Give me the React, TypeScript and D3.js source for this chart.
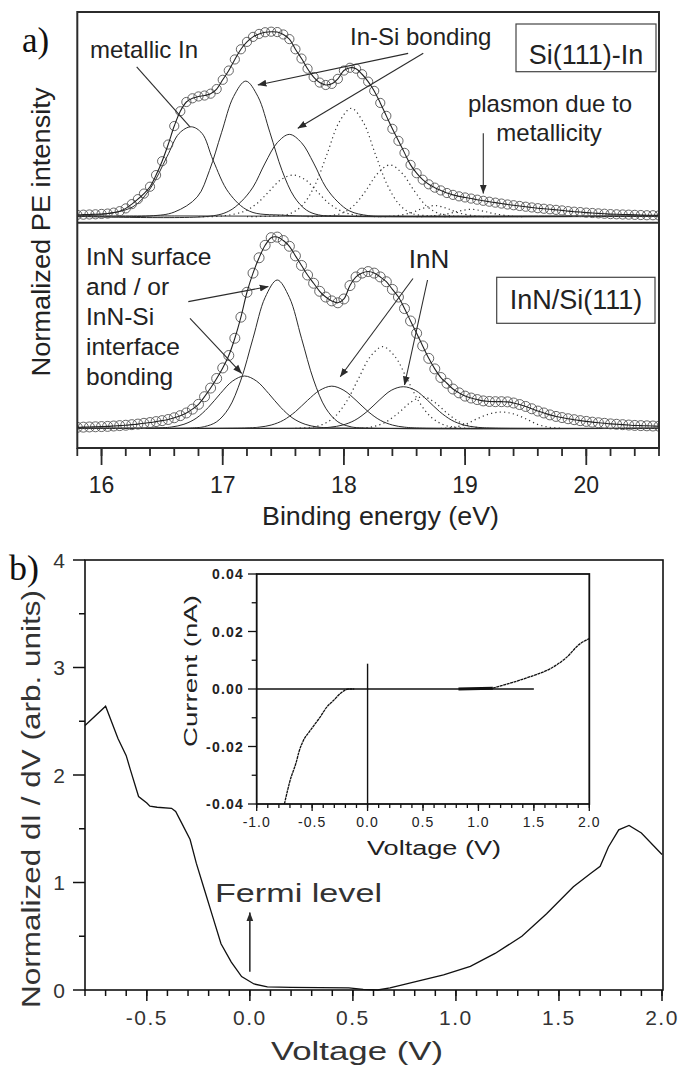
import React from 'react';
import * as d3 from 'd3';

type Pt = [number, number];

// ---------- panel a: photoemission spectra (binding energy eV, normalized intensity)
const siInSpectrum: Pt[] = [
  [15.80,.010],[15.85,.011],[15.90,.012],[15.95,.013],[16.00,.015],[16.05,.017],[16.10,.022],[16.15,.030],
  [16.20,.045],[16.25,.068],[16.30,.095],[16.35,.125],[16.40,.162],[16.45,.225],[16.50,.300],[16.55,.390],
  [16.60,.490],[16.65,.570],[16.70,.620],[16.75,.640],[16.80,.650],[16.85,.655],[16.90,.665],[16.95,.690],
  [17.00,.740],[17.05,.790],[17.10,.850],[17.15,.905],[17.20,.945],[17.25,.972],[17.30,.988],[17.35,.997],
  [17.40,1.000],[17.45,.998],[17.50,.985],[17.55,.960],[17.60,.905],[17.65,.855],[17.70,.800],[17.75,.755],
  [17.80,.725],[17.85,.712],[17.90,.718],[17.95,.745],[18.00,.790],[18.05,.805],[18.10,.800],[18.15,.770],
  [18.20,.730],[18.25,.680],[18.30,.615],[18.35,.545],[18.40,.475],[18.45,.410],[18.50,.345],[18.55,.280],
  [18.60,.235],[18.65,.200],[18.70,.175],[18.75,.157],[18.80,.142],[18.85,.128],[18.90,.118],[18.95,.110],
  [19.00,.104],[19.05,.098],[19.10,.092],[19.15,.086],[19.20,.081],[19.25,.076],[19.30,.071],[19.35,.066],
  [19.40,.062],[19.45,.058],[19.50,.054],[19.55,.050],[19.60,.046],[19.65,.043],[19.70,.040],[19.75,.037],
  [19.80,.034],[19.85,.030],[19.90,.027],[19.95,.025],[20.00,.022],[20.05,.020],[20.10,.018],[20.15,.016],
  [20.20,.014],[20.25,.013],[20.30,.012],[20.35,.011],[20.40,.010],[20.45,.009],[20.50,.008],[20.55,.008],
  [20.60,.007],
];

const innSpectrum: Pt[] = [
  [15.80,.005],[15.85,.006],[15.90,.007],[15.95,.008],[16.00,.009],[16.05,.010],[16.10,.012],[16.15,.014],
  [16.20,.016],[16.25,.019],[16.30,.022],[16.35,.026],[16.40,.030],[16.45,.035],[16.50,.040],[16.55,.046],
  [16.60,.055],[16.65,.066],[16.70,.080],[16.75,.100],[16.80,.125],[16.85,.165],[16.90,.210],[16.95,.260],
  [17.00,.315],[17.05,.380],[17.10,.470],[17.15,.580],[17.20,.710],[17.25,.810],[17.30,.890],[17.35,.955],
  [17.40,.995],[17.45,.998],[17.50,.980],[17.55,.950],[17.60,.900],[17.65,.850],[17.70,.800],[17.75,.757],
  [17.80,.715],[17.85,.685],[17.90,.665],[17.95,.655],[18.00,.675],[18.05,.745],[18.10,.790],[18.15,.810],
  [18.20,.818],[18.25,.810],[18.30,.790],[18.35,.765],[18.40,.725],[18.45,.685],[18.50,.625],[18.55,.560],
  [18.60,.496],[18.65,.430],[18.70,.365],[18.75,.310],[18.80,.265],[18.85,.235],[18.90,.205],[18.95,.185],
  [19.00,.168],[19.05,.158],[19.10,.150],[19.15,.143],[19.20,.140],[19.25,.139],[19.30,.139],[19.35,.138],
  [19.40,.132],[19.45,.124],[19.50,.114],[19.55,.102],[19.60,.090],[19.65,.080],[19.70,.070],[19.75,.062],
  [19.80,.056],[19.85,.050],[19.90,.045],[19.95,.040],[20.00,.036],[20.05,.032],[20.10,.029],[20.15,.026],
  [20.20,.023],[20.25,.021],[20.30,.019],[20.35,.017],[20.40,.015],[20.45,.014],[20.50,.013],[20.55,.012],
  [20.60,.011],
];

// fitted components, Si(111)-In
const metallicIn: Pt[] = [[15.8,.005],[16.0,.012],[16.26,.054],[16.4,.15],[16.54,.324],[16.64,.45],[16.74,.486],[16.83,.45],[16.92,.306],[17.05,.13],[17.22,.03],[17.5,.008],[18.0,.003],[20.6,.002]];
const inSiA: Pt[] = [[15.8,.002],[16.4,.004],[16.6,.025],[16.79,.107],[16.89,.249],[16.99,.454],[17.09,.65],[17.19,.733],[17.29,.65],[17.39,.454],[17.49,.249],[17.59,.107],[17.69,.036],[17.79,.01],[18.0,.002],[20.6,.002]];
const inSiB: Pt[] = [[15.8,.002],[16.9,.003],[17.05,.03],[17.15,.08],[17.25,.16],[17.35,.29],[17.45,.40],[17.55,.445],[17.65,.40],[17.75,.29],[17.85,.16],[17.95,.08],[18.05,.03],[18.2,.006],[18.4,.002],[20.6,.002]];
const siInDotA: Pt[] = [[16.8,.0],[17.0,.004],[17.18,.03],[17.28,.07],[17.38,.135],[17.48,.2],[17.58,.225],[17.68,.2],[17.78,.135],[17.88,.07],[17.98,.03],[18.1,.008],[18.3,.0]];
const siInDotB: Pt[] = [[17.2,.0],[17.4,.004],[17.56,.018],[17.66,.064],[17.76,.169],[17.86,.337],[17.96,.51],[18.06,.586],[18.16,.51],[18.26,.337],[18.36,.169],[18.46,.064],[18.56,.018],[18.72,.004],[18.9,.0]];
const siInDotC: Pt[] = [[17.7,.0],[17.85,.004],[17.98,.018],[18.08,.059],[18.18,.14],[18.28,.235],[18.38,.28],[18.48,.235],[18.58,.14],[18.68,.059],[18.78,.018],[18.9,.004],[19.05,.0]];
const siInDotD: Pt[] = [[18.3,.0],[18.4,.003],[18.55,.02],[18.65,.045],[18.75,.06],[18.85,.045],[18.95,.02],[19.1,.003],[19.2,.0]];
const siInDotE: Pt[] = [[18.6,.0],[18.7,.002],[18.85,.015],[18.95,.03],[19.05,.04],[19.15,.03],[19.25,.015],[19.4,.002],[19.5,.0]];
const siInBackground: Pt[] = [[15.8,.004],[16.6,.004],[17.4,.003],[18.4,.003],[19.4,.004],[20.6,.005]];

// fitted components, InN/Si(111)
const innSurfaceLow: Pt[] = [[15.8,.0],[16.5,.003],[16.58,.007],[16.68,.021],[16.78,.052],[16.88,.108],[16.98,.181],[17.08,.246],[17.18,.273],[17.28,.246],[17.38,.181],[17.48,.108],[17.58,.052],[17.68,.021],[17.78,.007],[17.9,.002],[20.6,.0]];
const innSurfaceMain: Pt[] = [[15.8,.0],[16.75,.002],[16.85,.009],[16.95,.034],[17.05,.105],[17.15,.252],[17.25,.47],[17.35,.683],[17.45,.774],[17.55,.683],[17.65,.47],[17.75,.252],[17.85,.105],[17.95,.034],[18.05,.009],[18.15,.002],[20.6,.0]];
const innBulkA: Pt[] = [[15.8,.0],[17.2,.002],[17.3,.006],[17.4,.017],[17.5,.042],[17.6,.087],[17.7,.146],[17.8,.198],[17.9,.22],[18.0,.198],[18.1,.146],[18.2,.087],[18.3,.042],[18.4,.017],[18.5,.006],[18.65,.001],[20.6,.0]];
const innBulkB: Pt[] = [[15.8,.0],[17.8,.002],[17.89,.006],[17.99,.017],[18.09,.042],[18.19,.087],[18.29,.146],[18.39,.198],[18.49,.217],[18.59,.198],[18.69,.146],[18.79,.087],[18.89,.042],[18.99,.017],[19.09,.006],[19.25,.001],[20.6,.0]];
const innDotA: Pt[] = [[17.6,.0],[17.72,.005],[17.82,.019],[17.92,.058],[18.02,.138],[18.12,.259],[18.22,.376],[18.32,.426],[18.42,.376],[18.52,.259],[18.62,.138],[18.72,.058],[18.82,.019],[18.92,.005],[19.05,.0]];
const innDotB: Pt[] = [[18.15,.0],[18.25,.01],[18.35,.034],[18.45,.08],[18.55,.135],[18.65,.165],[18.75,.135],[18.85,.08],[18.95,.034],[19.05,.01],[19.15,.0]];
const innDotC: Pt[] = [[18.8,.0],[18.9,.005],[19.0,.02],[19.1,.05],[19.2,.075],[19.3,.085],[19.4,.075],[19.5,.05],[19.6,.02],[19.7,.005],[19.8,.0]];

const energyTicks = [16, 17, 18, 19, 20];

// ---------- panel b: tunnelling spectroscopy
const didvCurve: Pt[] = [
  [-0.80,2.46],[-0.70,2.64],[-0.64,2.34],[-0.60,2.18],[-0.58,2.05],[-0.54,1.80],[-0.50,1.74],[-0.485,1.71],
  [-0.45,1.70],[-0.38,1.69],[-0.36,1.66],[-0.33,1.55],[-0.29,1.40],[-0.26,1.18],[-0.22,0.93],[-0.18,0.68],
  [-0.14,0.43],[-0.09,0.26],[-0.04,0.125],[0.02,0.056],[0.085,0.03],[0.2,0.025],[0.48,0.02],[0.55,0.005],
  [0.62,0.0],[0.68,0.02],[0.81,0.08],[0.94,0.14],[1.07,0.22],[1.19,0.34],[1.32,0.50],[1.44,0.71],
  [1.57,0.96],[1.65,1.08],[1.70,1.15],[1.74,1.33],[1.79,1.49],[1.84,1.53],[1.90,1.46],[2.00,1.26],
];
const ivNegative: Pt[] = [
  [-0.75,-0.04],[-0.70,-0.032],[-0.64,-0.025],[-0.62,-0.022],[-0.58,-0.018],[-0.52,-0.0146],[-0.49,-0.013],
  [-0.43,-0.0099],[-0.37,-0.0064],[-0.31,-0.0041],[-0.234,-0.0012],[-0.17,0.0],[-0.12,0.0],
];
const ivFlat: Pt[] = [[0.82,0.0],[1.13,0.0003]];
const ivPositive: Pt[] = [[1.13,0.0003],[1.31,0.0023],[1.49,0.0046],[1.645,0.007],[1.795,0.011],[1.915,0.0157],[2.0,0.0175]];
const ivZeroLine: Pt[] = [[-1.0,0.0],[1.5,0.0]];
const fermiMarker: Pt[] = [[0.0,0.0088],[0.0,-0.04]];

const voltTicks = [-0.5, 0, 0.5, 1, 1.5, 2];
const voltTickLabels = ['-0.5', '0.0', '0.5', '1.0', '1.5', '2.0'];
const didvTicks = [0, 1, 2, 3, 4];
const insetVTicks = [-1, -0.5, 0, 0.5, 1, 1.5, 2];
const insetVTickLabels = ['-1.0', '-0.5', '0.0', '0.5', '1.0', '1.5', '2.0'];
const insetITicks = [-0.04, -0.02, 0, 0.02, 0.04];
const insetITickLabels = ['-0.04', '-0.02', '0.00', '0.02', '0.04'];

const SANS = "'Liberation Sans', Arial, Helvetica, sans-serif";
const SERIF = "'Liberation Serif', 'Times New Roman', serif";
const GREY = '#2b2b2b';

const rng = (a: number, b: number, step: number) =>
  d3.range(Math.round((b - a) / step) + 1).map(i => +(a + i * step).toFixed(3));

export default function App() {
  // panel a scales
  const xA = d3.scaleLinear().domain([15.8, 20.6]).range([77.3, 659]);
  const yTop = d3.scaleLinear().domain([0, 1]).range([216.7, 31.7]);
  const yBot = d3.scaleLinear().domain([0, 1]).range([428.3, 236.7]);
  const topLine = d3.line<Pt>().x(d => xA(d[0])).y(d => yTop(d[1])).curve(d3.curveCatmullRom);
  const botLine = d3.line<Pt>().x(d => xA(d[0])).y(d => yBot(d[1])).curve(d3.curveCatmullRom);
  const frameA = { x0: 77.3, x1: 659, y0: 12, ymid: 222.7, y1: 448 };

  // panel b scales
  const xB = d3.scaleLinear().domain([-0.8, 2.0]).range([85, 662]);
  const yB = d3.scaleLinear().domain([0, 4]).range([990, 560]);
  const bLine = d3.line<Pt>().x(d => xB(d[0])).y(d => yB(d[1]));

  // inset scales
  const xI = d3.scaleLinear().domain([-1, 2]).range([256.7, 589.3]);
  const yI = d3.scaleLinear().domain([-0.04, 0.04]).range([804, 574]);
  const iLine = d3.line<Pt>().x(d => xI(d[0])).y(d => yI(d[1])).curve(d3.curveMonotoneX);

  const arrowA = (e0: number, i0: number, e1: number, i1: number, y: any, head = true) => (
    <line x1={xA(e0)} y1={y(i0)} x2={xA(e1)} y2={y(i1)} stroke={GREY} strokeWidth={1.1}
      markerEnd={head ? 'url(#head)' : undefined} />
  );

  return (
    <svg width={681} height={1069} style={{ position: 'absolute', left: 0, top: 0, background: '#fff' }}
      fontFamily={SANS}>
      <defs>
        <marker id="head" viewBox="0 0 10 10" refX="9.5" refY="5" markerWidth="9" markerHeight="9"
          markerUnits="userSpaceOnUse" orient="auto">
          <path d="M0,1.2 L10,5 L0,8.8 z" fill={GREY} />
        </marker>
        <clipPath id="clipTop">
          <rect x={frameA.x0} y={frameA.y0} width={frameA.x1 - frameA.x0} height={frameA.ymid - frameA.y0} />
        </clipPath>
        <clipPath id="clipBot">
          <rect x={frameA.x0} y={frameA.ymid} width={frameA.x1 - frameA.x0} height={frameA.y1 - frameA.ymid} />
        </clipPath>
      </defs>

      {/* ================= panel a ================= */}
      <text x={22} y={52} fontFamily={SERIF} fontSize={35} fill="#111">a)</text>

      <g clipPath="url(#clipTop)" fill="none">
        {[siInDotA, siInDotB, siInDotC, siInDotD, siInDotE].map((d, i) => (
          <path key={i} d={topLine(d) || ''} stroke="#333" strokeWidth={1.2} strokeDasharray="1.2,3.2" />
        ))}
        {[metallicIn, inSiA, inSiB, siInBackground].map((d, i) => (
          <path key={i} d={topLine(d) || ''} stroke={GREY} strokeWidth={1} />
        ))}
        {siInSpectrum.map((d, i) => (
          <circle key={i} cx={xA(d[0])} cy={yTop(d[1])} r={4.6} stroke="#555" strokeWidth={0.9} />
        ))}
        <path d={topLine(siInSpectrum) || ''} stroke="#222" strokeWidth={1.1} />
      </g>

      <g clipPath="url(#clipBot)" fill="none">
        {[innDotA, innDotB, innDotC].map((d, i) => (
          <path key={i} d={botLine(d) || ''} stroke="#333" strokeWidth={1.2} strokeDasharray="1.2,3.2" />
        ))}
        {[innSurfaceLow, innSurfaceMain, innBulkA, innBulkB].map((d, i) => (
          <path key={i} d={botLine(d) || ''} stroke={GREY} strokeWidth={1} />
        ))}
        <line x1={frameA.x0} x2={frameA.x1} y1={yBot(0)} y2={yBot(0)} stroke={GREY} strokeWidth={1} />
        {innSpectrum.map((d, i) => (
          <circle key={i} cx={xA(d[0])} cy={yBot(d[1])} r={5} stroke="#555" strokeWidth={0.9} />
        ))}
        <path d={botLine(innSpectrum) || ''} stroke="#222" strokeWidth={1.1} />
      </g>

      {/* frame */}
      <rect x={frameA.x0} y={frameA.y0} width={frameA.x1 - frameA.x0} height={frameA.y1 - frameA.y0}
        fill="none" stroke={GREY} strokeWidth={2} />
      <line x1={frameA.x0} x2={frameA.x1} y1={frameA.ymid} y2={frameA.ymid} stroke={GREY} strokeWidth={2} />

      {/* x ticks */}
      {rng(15.8, 20.6, 0.2).map(v => (
        <line key={v} x1={xA(v)} x2={xA(v)} y1={frameA.y1} y2={frameA.y1 + 8} stroke={GREY} strokeWidth={1.8} />
      ))}
      {energyTicks.map(v => (
        <g key={v}>
          <line x1={xA(v)} x2={xA(v)} y1={frameA.y1} y2={frameA.y1 + 17} stroke={GREY} strokeWidth={1.8} />
          <text x={xA(v)} y={493} textAnchor="middle" fontSize={23} fill="#222">{v}</text>
        </g>
      ))}
      <text x={380.5} y={525} textAnchor="middle" fontSize={25} fill="#222" textLength={237}
        lengthAdjust="spacingAndGlyphs">Binding energy (eV)</text>
      <text transform="translate(50,232) rotate(-90)" textAnchor="middle" fontSize={25} fill="#222"
        textLength={289} lengthAdjust="spacingAndGlyphs">Normalized PE intensity</text>

      {/* annotations top */}
      <text x={90} y={58} fontSize={24} fill="#222">metallic In</text>
      {arrowA(16.29, 0.81, 16.73, 0.486, yTop, false)}
      <text x={350} y={45} fontSize={24} fill="#222">In-Si bonding</text>
      {arrowA(18.53, 0.883, 17.29, 0.712, yTop)}
      {arrowA(18.655, 0.883, 17.62, 0.478, yTop)}
      <rect x={516} y={24} width={140} height={47.7} fill="#fff" stroke="#444" strokeWidth={1.2} />
      <text x={586} y={64} textAnchor="middle" fontSize={27} fill="#222">Si(111)-In</text>
      <text x={550} y={111.5} textAnchor="middle" fontSize={24} fill="#222">plasmon due to</text>
      <text x={549} y={141} textAnchor="middle" fontSize={24} fill="#222">metallicity</text>
      {arrowA(19.15, 0.451, 19.15, 0.126, yTop)}

      {/* annotations bottom */}
      {['InN surface', 'and / or', 'InN-Si', 'interface', 'bonding'].map((s, i) => (
        <text key={s} x={86} y={265 + i * 30} fontSize={24.5} fill="#222">{s}</text>
      ))}
      {arrowA(16.716, 0.661, 17.376, 0.74, yBot)}
      {arrowA(16.73, 0.574, 17.156, 0.287, yBot)}
      <text x={429} y={268} textAnchor="middle" fontSize={26} fill="#222">InN</text>
      {arrowA(18.57, 0.782, 17.97, 0.269, yBot)}
      {arrowA(18.69, 0.774, 18.50, 0.226, yBot)}
      <rect x={496.7} y={277.3} width={158.3} height={46} fill="#fff" stroke="#444" strokeWidth={1.2} />
      <text x={576} y={309} textAnchor="middle" fontSize={27} fill="#222">InN/Si(111)</text>

      {/* ================= panel b ================= */}
      <text x={9} y={580} fontFamily={SERIF} fontSize={36} fill="#111">b)</text>
      <rect x={85} y={560} width={578} height={430} fill="none" stroke="#111" strokeWidth={1.6} />
      {rng(-0.8, 2.0, 0.1).map(v => (
        <line key={v} x1={xB(v)} x2={xB(v)} y1={990} y2={996} stroke="#111" strokeWidth={1.5} />
      ))}
      {voltTicks.map((v, i) => (
        <g key={v}>
          <line x1={xB(v)} x2={xB(v)} y1={990} y2={1001} stroke="#111" strokeWidth={1.5} />
          <text x={xB(v)} y={1025} textAnchor="middle" fontSize={21} letterSpacing={1.5} fill="#333">
            {voltTickLabels[i]}
          </text>
        </g>
      ))}
      {rng(0.5, 3.5, 1).map(v => (
        <line key={v} x1={79} x2={85} y1={yB(v)} y2={yB(v)} stroke="#111" strokeWidth={1.5} />
      ))}
      {didvTicks.map(v => (
        <g key={v}>
          <line x1={73} x2={85} y1={yB(v)} y2={yB(v)} stroke="#111" strokeWidth={1.5} />
          <text x={65} y={yB(v) + 7.5} textAnchor="end" fontSize={21} fill="#333">{v}</text>
        </g>
      ))}
      <path d={bLine(didvCurve) || ''} fill="none" stroke="#111" strokeWidth={1.3} />
      <text x={357} y={1060} textAnchor="middle" fontSize={26} fill="#333" textLength={172}
        lengthAdjust="spacingAndGlyphs">Voltage (V)</text>
      <text transform="translate(40,799) rotate(-90)" textAnchor="middle" fontSize={26} fill="#333"
        textLength={418} lengthAdjust="spacingAndGlyphs">Normalized dI / dV (arb. units)</text>
      <text x={215} y={902} fontSize={26} fill="#333" textLength={167} lengthAdjust="spacingAndGlyphs">Fermi level</text>
      <line x1={xB(0)} x2={xB(0)} y1={yB(0.17)} y2={yB(0.72)} stroke="#111" strokeWidth={1.4} markerEnd="url(#head)" />

      {/* inset */}
      <rect x={256.7} y={574} width={332.6} height={230} fill="#fff" stroke="#111" strokeWidth={1.8} />
      {rng(-1, 2, 0.1).map(v => (
        <line key={v} x1={xI(v)} x2={xI(v)} y1={804} y2={808} stroke="#111" strokeWidth={1.3} />
      ))}
      {insetVTicks.map((v, i) => (
        <g key={v}>
          <line x1={xI(v)} x2={xI(v)} y1={804} y2={811} stroke="#111" strokeWidth={1.3} />
          <text x={xI(v)} y={827} textAnchor="middle" fontSize={14} letterSpacing={1} fill="#222">
            {insetVTickLabels[i]}
          </text>
        </g>
      ))}
      {rng(-0.03, 0.03, 0.02).map(v => (
        <line key={v} x1={251.7} x2={256.7} y1={yI(v)} y2={yI(v)} stroke="#111" strokeWidth={1.3} />
      ))}
      {insetITicks.map((v, i) => (
        <g key={v}>
          <line x1={248} x2={256.7} y1={yI(v)} y2={yI(v)} stroke="#111" strokeWidth={1.3} />
          <text x={244} y={yI(v) + 5} textAnchor="end" fontSize={14} fontWeight="bold" letterSpacing={1.2} fill="#222">
            {insetITickLabels[i]}
          </text>
        </g>
      ))}
      <g fill="none" stroke="#111">
        <path d={iLine(ivZeroLine) || ''} strokeWidth={1.6} />
        <path d={iLine(fermiMarker) || ''} strokeWidth={1.4} />
        <path d={iLine(ivNegative) || ''} strokeWidth={1.3} strokeDasharray="3,0.6" />
        <path d={iLine(ivFlat) || ''} strokeWidth={3} />
        <path d={iLine(ivPositive) || ''} strokeWidth={1.3} strokeDasharray="3,0.6" />
      </g>
      <text x={434} y={855} textAnchor="middle" fontSize={20} fill="#222" textLength={134}
        lengthAdjust="spacingAndGlyphs">Voltage (V)</text>
      <text transform="translate(197,671) rotate(-90)" textAnchor="middle" fontSize={19} fill="#222"
        textLength={152} lengthAdjust="spacingAndGlyphs">Current (nA)</text>
    </svg>
  );
}
